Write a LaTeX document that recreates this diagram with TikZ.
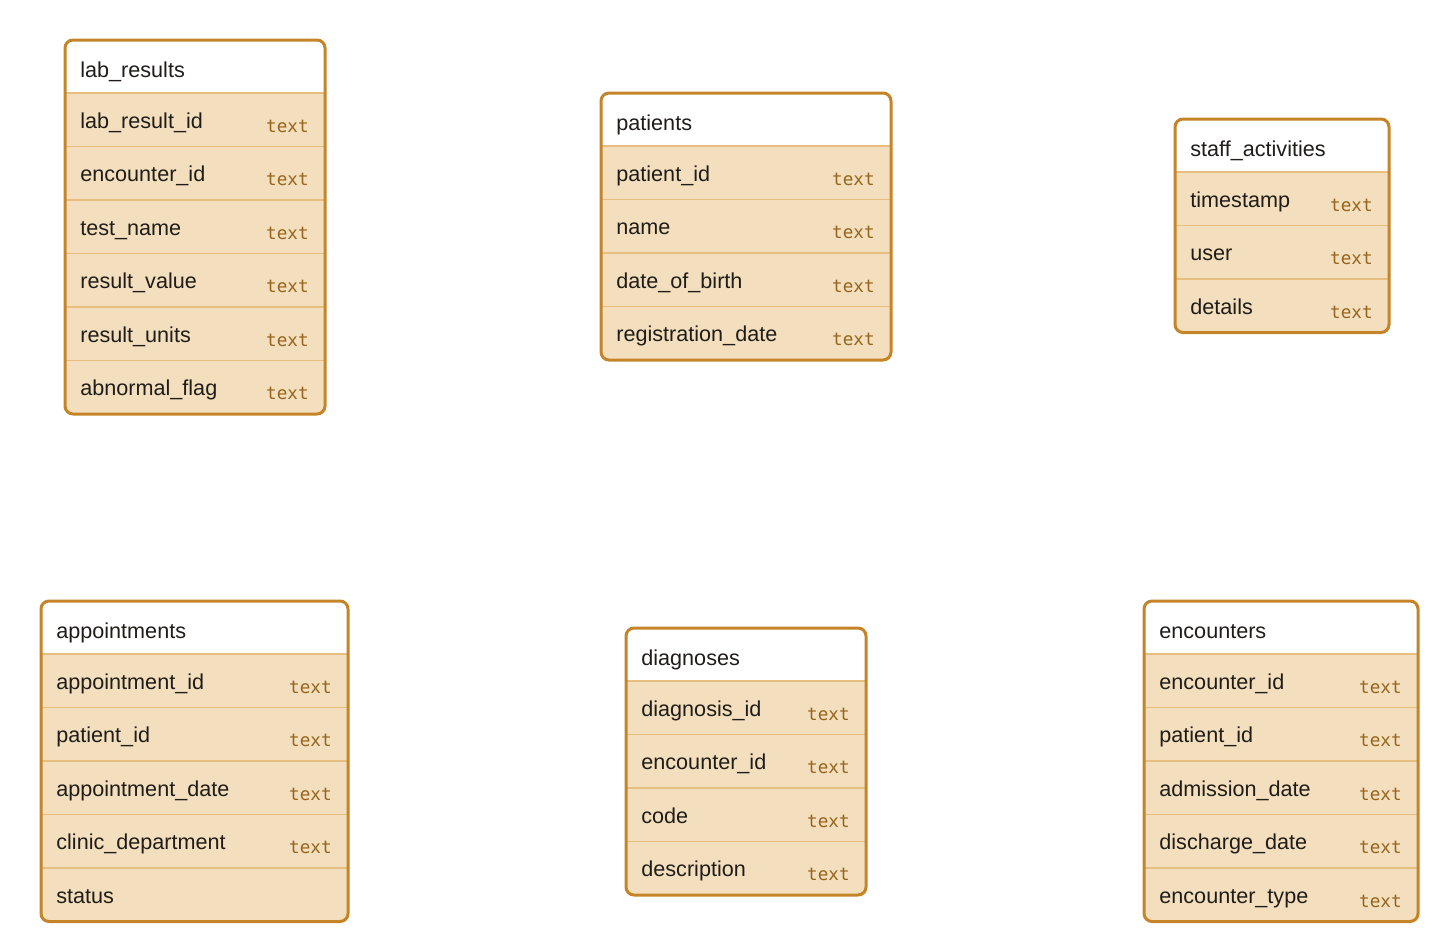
\documentclass[tikz,border=0pt]{standalone}
\usepackage{fontspec}
\setmainfont{Liberation Sans}
\setmonofont{DejaVu Sans Mono}
\usetikzlibrary{positioning}
\definecolor{tblborder}{RGB}{198,132,40}
\definecolor{tblfill}{RGB}{243,223,189}
\definecolor{tblsep}{RGB}{229,190,128}
\definecolor{tbltype}{RGB}{150,100,28}
\definecolor{tbltext}{RGB}{32,28,24}
\tikzstyle{tabletitle} = [anchor=base west, inner sep=0pt, text=tbltext, font=\fontsize{10.8}{12}\selectfont]
\tikzstyle{field} = [anchor=base west, inner sep=0pt, text=tbltext, font=\fontsize{10.8}{12}\selectfont]
\tikzstyle{ftype} = [anchor=base east, inner sep=0pt, text=tbltype, font=\ttfamily\fontsize{8.8}{10}\selectfont]
\tikzstyle{outline} = [draw=tblborder, line width=1.5pt, rounded corners=4pt]
\tikzstyle{sepline} = [draw=tblsep, line width=0.6pt]

% #1 name, #2 left, #3 top, #4 width, #5 title, #6 number of rows, #7 rows field/type
\newcommand{\erdtable}[7]{%
  \pgfmathsetmacro{\tb}{#3+53+#6*53.5}
  \fill[tblfill, rounded corners=4pt] (#2,#3) rectangle (#2+#4,\tb);
  \begin{scope}
    \clip[rounded corners=4pt] (#2,#3) rectangle (#2+#4,\tb);
    \fill[white] (#2,#3) rectangle (#2+#4,#3+53);
  \end{scope}
  \node[tabletitle] (#1-title) at (#2+15,#3+37) {#5};
  \foreach \f/\t [count=\i] in {#7} {
    \pgfmathsetmacro{\rt}{#3+53+(\i-1)*53.5}
    \draw[sepline] (#2,\rt) -- (#2+#4,\rt);
    \node[field] (#1-\i) at (#2+15,\rt+35) {\f};
    \node[ftype] (#1-\i-type) at (#2+#4-16,\rt+39) {\t};
  }
  \draw[outline] (#2,#3) rectangle (#2+#4,\tb);
}

\begin{document}
\begin{tikzpicture}[x=0.5pt, y=-0.5pt]
\useasboundingbox (0,0) rectangle (1438,942);

\erdtable{labresults}{65}{40}{260}{lab\_results}{6}{lab\_result\_id/text, encounter\_id/text, test\_name/text, result\_value/text, result\_units/text, abnormal\_flag/text}
\erdtable{patients}{601}{93}{290}{patients}{4}{patient\_id/text, name/text, date\_of\_birth/text, registration\_date/text}
\erdtable{staffactivities}{1175}{119}{214}{staff\_activities}{3}{timestamp/text, user/text, details/text}
\erdtable{appointments}{41}{601}{307}{appointments}{5}{appointment\_id/text, patient\_id/text, appointment\_date/text, clinic\_department/text, status/{}}
\erdtable{diagnoses}{626}{628}{240}{diagnoses}{4}{diagnosis\_id/text, encounter\_id/text, code/text, description/text}
\erdtable{encounters}{1144}{601}{274}{encounters}{5}{encounter\_id/text, patient\_id/text, admission\_date/text, discharge\_date/text, encounter\_type/text}

\end{tikzpicture}
\end{document}
